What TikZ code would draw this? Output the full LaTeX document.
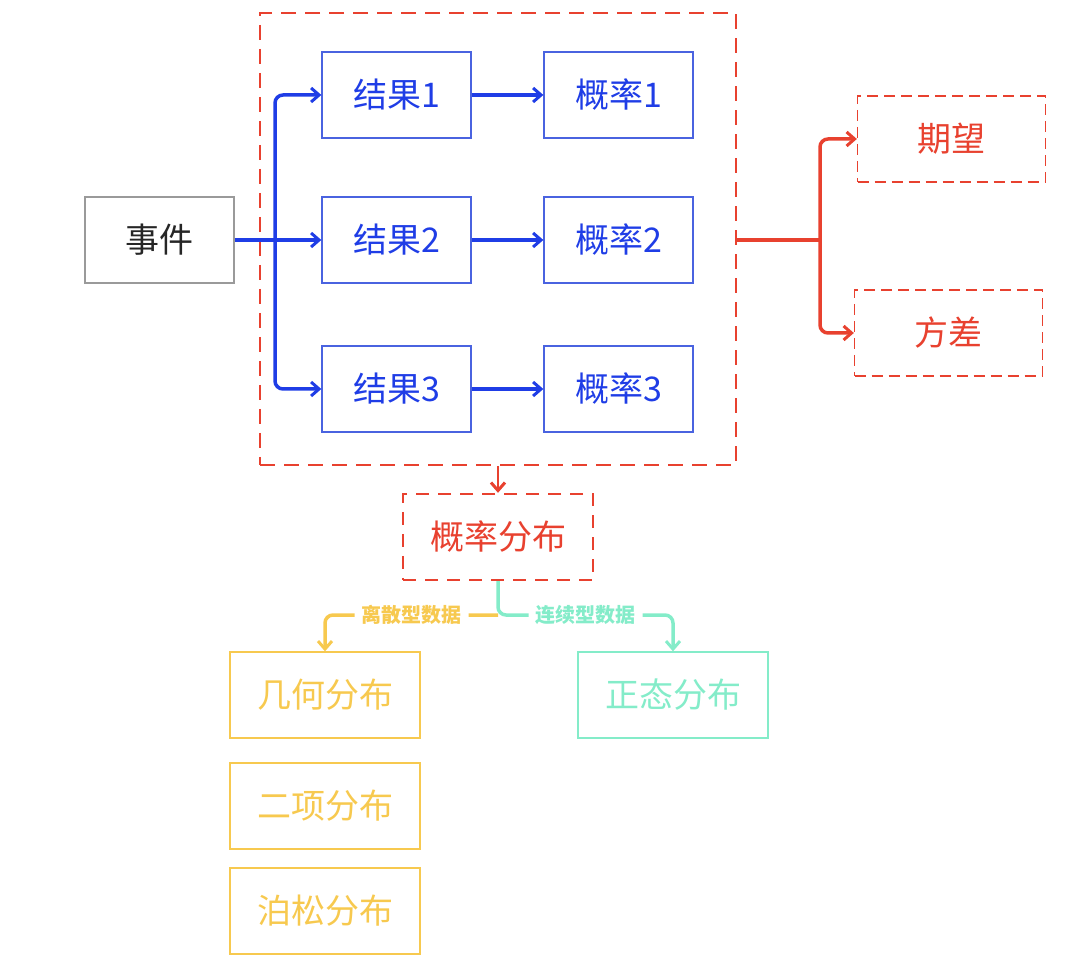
\documentclass[tikz,border=0pt]{standalone}
\usepackage{fontspec}
\setmainfont{Noto Sans CJK SC}
\usetikzlibrary{arrows.meta}
\definecolor{cblue}{HTML}{1F3DE6}
\definecolor{cbluebox}{HTML}{4A63E0}
\definecolor{cred}{HTML}{E8412F}
\definecolor{cyel}{HTML}{F7C94F}
\definecolor{cmint}{HTML}{84ECC9}
\definecolor{cgray}{HTML}{9A9A9A}
\tikzset{
  box/.style={draw, line width=1.3pt, inner sep=0pt, minimum height=86pt, font=\fontsize{34}{36}\selectfont},
  bluebox/.style={box, draw=cbluebox, text=cblue, minimum width=149pt},
  graybox/.style={box, draw=cgray, text=black!85, minimum width=149pt},
  redbox/.style={box, draw=cred, text=cred, minimum width=188pt, dash pattern=on 11pt off 6pt},
  yelbox/.style={box, draw=cyel, text=cyel, minimum width=190pt},
  mintbox/.style={box, draw=cmint, text=cmint, minimum width=190pt},
  tip/.style={-{Straight Barb[length=8pt,width=14pt,line width=3pt]}},
  conn/.style={line width=3.5pt, rounded corners=8pt},
  lab/.style={fill=white, inner sep=7pt, font=\bfseries\fontsize{20}{22}\selectfont},
}
\begin{document}
\begin{tikzpicture}[x=1pt,y=-1pt]
\useasboundingbox (0,0) rectangle (1080,965);
% big dashed frame
\node[draw=cred, line width=2.8pt, dash pattern=on 15pt off 9pt, minimum width=476pt, minimum height=452pt, inner sep=0pt] (big) at (498,239) {};
% nodes
\node[graybox] (ev) at (159.5,240) {事件};
\node[bluebox] (r1) at (396.5,95) {结果1};
\node[bluebox] (r2) at (396.5,240) {结果2};
\node[bluebox] (r3) at (396.5,389) {结果3};
\node[bluebox] (p1) at (618.5,95) {概率1};
\node[bluebox] (p2) at (618.5,240) {概率2};
\node[bluebox] (p3) at (618.5,389) {概率3};
\node[redbox] (qw) at (951.5,139) {期望};
\node[redbox] (fc) at (948.5,333) {方差};
\node[box, draw=cred, text=cred, line width=2.4pt, dash pattern=on 13pt off 9pt, minimum width=190pt] (pd) at (498,537) {概率分布};
\node[yelbox] (ji) at (325,695) {几何分布};
\node[yelbox] (ex) at (325,806) {二项分布};
\node[yelbox] (bs) at (325,911) {泊松分布};
\node[mintbox] (zt) at (673,695) {正态分布};
% blue connectors
\coordinate (bsplit) at (275,240);
\draw[conn, cblue, tip] (ev.east) -- (r2.west);
\draw[conn, cblue, tip] (bsplit) |- (r1.west);
\draw[conn, cblue, tip] (bsplit) |- (r3.west);
\draw[conn, cblue, tip] (r1.east) -- (p1.west);
\draw[conn, cblue, tip] (r2.east) -- (p2.west);
\draw[conn, cblue, tip] (r3.east) -- (p3.west);
% red connectors
\coordinate (rsplit) at (820,240);
\draw[conn, cred] (big.east |- rsplit) -- (rsplit);
\draw[conn, cred, tip] (rsplit) |- (qw.west);
\draw[conn, cred, tip] (rsplit) |- (fc.west);
\draw[conn, cred, line width=2.6pt, tip] (big.south) -- (pd.north);
% lower connectors
\coordinate (lsplit) at (498,615);
\draw[conn, cyel, tip] (lsplit) -| node[lab, pos=0.25, text=cyel] {离散型数据} (ji.north);
\draw[conn, cmint, tip] (pd.south) -- (lsplit) -| node[lab, pos=0.25, text=cmint] {连续型数据} (zt.north);
\end{tikzpicture}
\end{document}
